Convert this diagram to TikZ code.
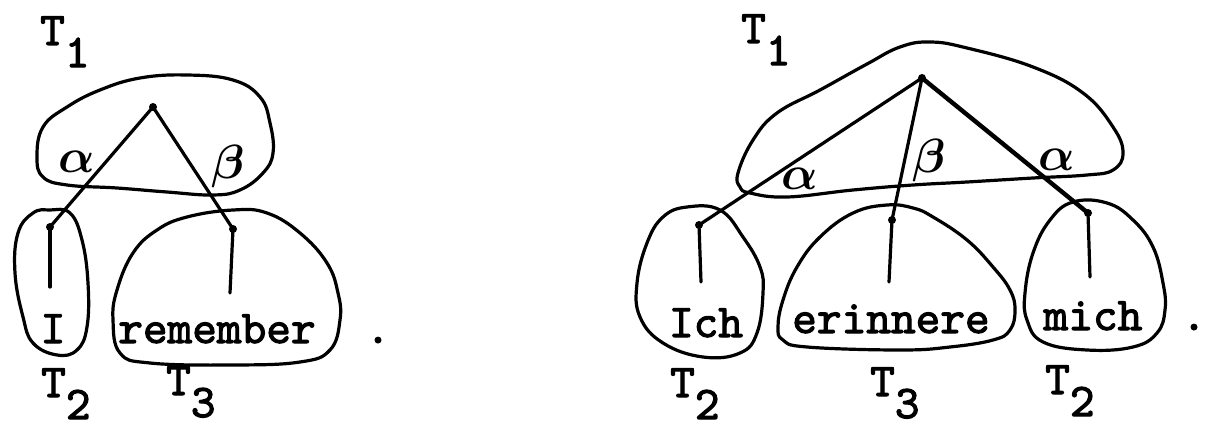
\RequirePackage{fix-cm}
\documentclass[tikz,border=0pt]{standalone}
\usepackage{fontspec}
\usepackage{bm}
\usepackage{graphicx}
\usetikzlibrary{positioning}

% heavy typewriter text (Latin Modern Mono, emboldened)
\newfontfamily\heavytt{lmmono10-regular.otf}[FakeBold=2.2]
\newcommand{\tw}[1]{{\heavytt\fontsize{47}{56}\selectfont #1}}
\newcommand{\tlab}[1]{\tw{T\raisebox{-0.47em}{#1}}}

\tikzset{
  blob/.style={draw, line width=3.2pt, line join=round},
  branch/.style={line width=3.2pt, line cap=round},
  knot/.style={circle, fill, inner sep=0pt, minimum size=8pt},
  word/.style={inner sep=0pt, anchor=base},
  tlabel/.style={inner sep=0pt, anchor=base west},
  greek/.style={inner sep=0pt, font=\fontsize{48}{56}\selectfont},
}

\begin{document}
\begin{tikzpicture}[x=1pt, y=-1pt]
\useasboundingbox (0,0) rectangle (1207,428);

% ---- English tree ----
\node[tlabel] (eT1) at (40,45) {\tlab{1}};
\draw[blob] plot[smooth cycle, tension=0.7] coordinates {(37,157) (43,127)
  (67,107) (100,90) (140,78) (187,75) (233,80) (260,97) (270,123) (273,153)
  (263,173) (240,190) (213,195) (167,192) (117,188) (67,185) (43,177)};
\draw[blob] plot[smooth cycle, tension=0.7] coordinates {(50,210) (70,213)
  (82,240) (88,283) (87,327) (77,350) (57,355) (33,343) (23,317) (15,273)
  (18,233) (33,213)};
\draw[blob] plot[smooth cycle, tension=0.7] coordinates {(233,210) (267,213)
  (300,233) (327,263) (338,293) (340,320) (330,350) (300,362) (233,365)
  (150,363) (120,353) (113,320) (117,290) (133,253) (157,230) (187,217)};

\node[knot] (eRoot) at (153,107) {};
\node[knot] (eI) at (50,227) {};
\node[knot] (eRem) at (233,229) {};
\coordinate (eIend) at (50,287);
\coordinate (eRemend) at (230,293);

\node[word] (wI) at (53,343) {\tw{I}};
\node[word] (wRem) at (217,343) {\tw{remember}};
\node[word] (eStop) at (378,343) {\tw{.}};

\node[greek] (eA) at (77,162) {$\bm{\alpha}$};
\node[greek] (eB) at (228,166) {$\bm{\beta}$};

\node[tlabel] (eT2) at (41,397) {\tlab{2}};
\node[tlabel] (eT3) at (166,395) {\tlab{3}};

\draw[branch] (eI.center) -- (eRoot.center) -- (eRem.center);
\draw[branch] (eI.center) -- (eIend);
\draw[branch] (eRem.center) -- (eRemend);

% ---- German tree ----
\node[tlabel] (gT1) at (741,43) {\tlab{1}};
\draw[blob] plot[smooth cycle, tension=0.7] coordinates {(930,42) (967,48)
  (1033,67) (1083,93) (1113,127) (1123,153) (1113,170) (1087,175) (1033,178)
  (967,182) (913,185) (853,190) (787,197) (750,193) (740,187) (738,173)
  (753,140) (777,113) (820,90) (867,64) (900,47)};
\draw[blob] plot[smooth cycle, tension=0.7] coordinates {(687,207) (720,210)
  (743,237) (760,267) (763,293) (757,333) (740,353) (703,357) (663,343)
  (640,317) (637,283) (647,243) (663,217)};
\draw[blob] plot[smooth cycle, tension=0.7] coordinates {(887,205) (913,208)
  (933,217) (967,240) (993,267) (1010,290) (1015,310) (1010,330) (993,340)
  (950,347) (900,350) (807,347) (783,340) (778,327) (783,300) (797,267)
  (820,237) (853,213)};
\draw[blob] plot[smooth cycle, tension=0.7] coordinates {(1073,202) (1107,203)
  (1133,220) (1153,247) (1163,283) (1165,310) (1157,333) (1133,347)
  (1087,350) (1043,342) (1027,320) (1025,293) (1033,253) (1050,220)};

\node[knot] (gRoot) at (922,78) {};
\node[knot] (gIch) at (699,225) {};
\node[knot] (gEr) at (892,220) {};
\node[knot] (gMich) at (1088,213) {};
\coordinate (gIchend) at (701,282);
\coordinate (gErend) at (889,282);
\coordinate (gMichend) at (1090,277);

\node[word] (wIch) at (706,337) {\tw{Ich}};
\node[word] (wEr) at (891,333) {\tw{erinnere}};
\node[word] (wMich) at (1093,330) {\tw{mich}};
\node[word] (gStop) at (1194,330) {\tw{.}};

\node[greek] (gA1) at (800,179) {$\bm{\alpha}$};
\node[greek] (gB) at (929,160) {$\bm{\beta}$};
\node[greek] (gA2) at (1057,160) {$\bm{\alpha}$};

\node[tlabel] (gT2a) at (670,397) {\tlab{2}};
\node[tlabel] (gT3) at (870,396) {\tlab{3}};
\node[tlabel] (gT2b) at (1045,394) {\tlab{2}};

\draw[branch] (gIch.center) -- (gRoot.center) -- (gEr.center);
\draw[branch, line width=4.4pt] (gRoot.center) -- (gMich.center);
\draw[branch] (gIch.center) -- (gIchend);
\draw[branch] (gEr.center) -- (gErend);
\draw[branch] (gMich.center) -- (gMichend);

\end{tikzpicture}
\end{document}
